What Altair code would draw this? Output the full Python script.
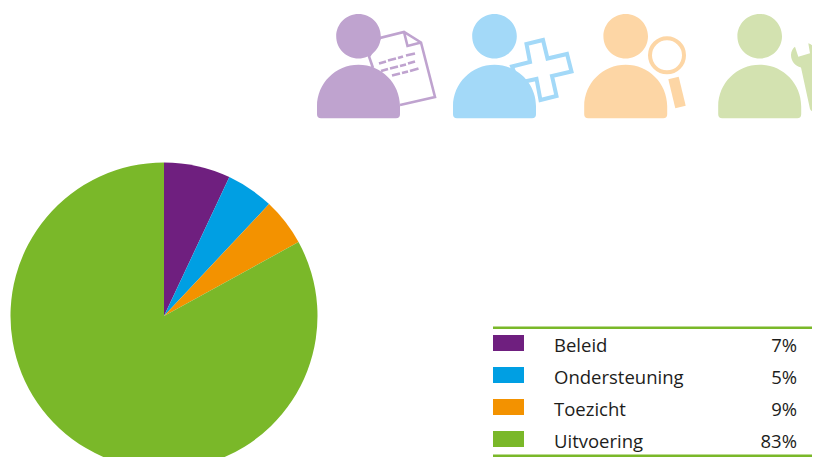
import altair as alt
import pandas as pd

CATEGORIES = ["Beleid", "Ondersteuning", "Toezicht", "Uitvoering"]
WEDGE_SHARES = [7, 5, 5, 83]
TABLE_LABELS = ["7%", "5%", "9%", "83%"]
COLORS = ["#6F1F7F", "#009FE3", "#F39200", "#7AB829"]
FONT = "Open Sans"

df = pd.DataFrame({
    "cat": CATEGORIES,
    "share": WEDGE_SHARES,
    "label": TABLE_LABELS,
    "idx": list(range(len(CATEGORIES))),
})

OFF = 8
color_scale = alt.Scale(domain=CATEGORIES, range=COLORS)
row_scale = alt.Scale(type="point", domain=CATEGORIES, range=[343 - OFF, 439 - OFF], padding=0)
row_y = alt.Y("cat:N", scale=row_scale, axis=None)

pie = alt.Chart(df).mark_arc(outerRadius=153.5).encode(
    theta=alt.Theta("share:Q", stack=True, scale=alt.Scale(domain=[0, 100])),
    order=alt.Order("idx:Q"),
    color=alt.Color("cat:N", scale=color_scale, legend=None),
    x=alt.value(164 - OFF),
    y=alt.value(316 - OFF),
)

swatches = alt.Chart(df).mark_rect(width=31, height=16).encode(
    x=alt.value(508.5 - OFF),
    y=row_y,
    color=alt.Color("cat:N", scale=color_scale, legend=None),
)
names = alt.Chart(df).mark_text(align="left", baseline="alphabetic", dy=9, font=FONT, fontSize=18.5, color="#1d1d1b").encode(
    x=alt.value(554 - OFF),
    y=row_y,
    text="cat:N",
)
values = alt.Chart(df).mark_text(align="right", baseline="alphabetic", dy=9, font=FONT, fontSize=18.5, color="#1d1d1b").encode(
    x=alt.value(797 - OFF),
    y=row_y,
    text="label:N",
)

one = pd.DataFrame({"k": [0]})


def rule(y):
    return alt.Chart(one).mark_rule(color="#7AB829", strokeWidth=2.6).encode(
        x=alt.value(493 - OFF), x2=alt.value(820 - OFF), y=alt.value(y - OFF)
    )


PERSON = (
    "M-41.5,70 A41.5,41.5 0 0 1 41.5,70 L41.5,78 Q41.5,82 37.5,82 L-37.5,82 Q-41.5,82 -41.5,78 Z "
    "M-22.3,0 A22.3,22.3 0 1 1 22.3,0 A22.3,22.3 0 1 1 -22.3,0 Z"
)


def filled(path, color, x, y):
    return alt.Chart(one).mark_point(shape=path, size=4, filled=True, color=color, opacity=1, strokeWidth=0).encode(
        x=alt.value(x - OFF), y=alt.value(y - OFF)
    )


def outline(path, color, width):
    return alt.Chart(one).mark_point(shape=path, size=4, filled=False, color=color, opacity=1, strokeWidth=width).encode(
        x=alt.value(-OFF), y=alt.value(-OFF)
    )


PURPLE, BLUE, ORANGE, GREEN = "#BFA3CF", "#A3D9F8", "#FDD6A5", "#D3E2B0"

doc = outline(
    "M373,68 L369,56.5 L380,38 L404,32 L421,42.5 L435,97 L400,105 M404,32 L407.5,46 L421,42.5",
    PURPLE, 2.6,
)
doc_lines = outline(
    "M379,63.5 L386,61.5 M388,60.5 L396,58.5 M398,58 L403,56.5 M406,55.5 L415,53.5 "
    "M381,71 L388,69 M390,68.5 L398,66.5 M400,66 L406,64.5 M408,63.5 L415,61.5 "
    "M392,75.5 L400,73.5 M402,73 L408,71.5 M410,71 L418.5,68.5",
    PURPLE, 2.8,
)
cross = outline(
    "M512,66.5 L530,62 L526.5,44 L543,40 L547.5,58.5 L567,54 L571.5,71.5 L552,76 L556.5,96 L540.5,100 L536.5,79 L518,83 Z",
    BLUE, 4,
)
lens = outline("M650,55.3 A17,17 0 1 1 684,55.3 A17,17 0 1 1 650,55.3 Z", ORANGE, 4)
handle = filled("M668.3,79.3 L678.7,76.7 L685.7,105.7 L675.3,108.3 Z", ORANGE, 0, 0)
wrench = filled(
    "M795,46.7 L798.3,56.7 L810,53.3 L808.3,43.3 C813,45 816.5,49 816.8,54 C817,59 815,63 812,64.5 "
    "L820,97 L823,112 C818,114 812,113 810,109 L801,67.5 C795,66 791,61 791,55 C791,51 793,48 795,46.7 Z",
    GREEN, 0, 0,
)

chart = alt.layer(
    pie, swatches, names, values, rule(327.7), rule(455.7),
    doc, doc_lines, cross, lens, handle, wrench,
    filled(PERSON, PURPLE, 358.5, 36.3),
    filled(PERSON, BLUE, 494.5, 36.3),
    filled(PERSON, ORANGE, 625.7, 36.3),
    filled(PERSON, GREEN, 759.7, 36.3),
).properties(
    width=804, height=449, padding=0, autosize=alt.AutoSizeParams(type="none")
).configure_view(stroke=None)

chart.save("out.html", embed_options={"renderer": "svg", "actions": False})
